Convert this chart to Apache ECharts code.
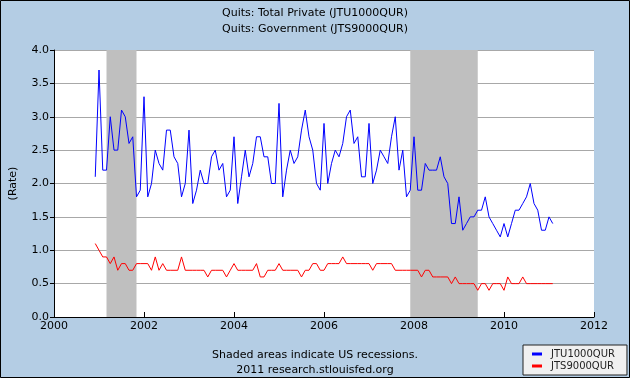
<!DOCTYPE html>
<html>
<head>
<meta charset="utf-8">
<script src="https://cdn.jsdelivr.net/npm/echarts@6/dist/echarts.min.js"></script>
<style>
html,body{margin:0;padding:0;background:#b4cde4;}
#chart{width:630px;height:378px;}
</style>
</head>
<body>
<div id="chart"></div>
<script>
// Monthly series start: December 2000
const startYear = 2000;
const startMonth = 12;

// Quits: Total Private (JTU1000QUR), rate
const quitsPrivate = [
  2.1,
  3.7,2.2,2.2,3.0,2.5,2.5,3.1,3.0,2.6,2.7,1.8,1.9,
  3.3,1.8,2.0,2.5,2.3,2.2,2.8,2.8,2.4,2.3,1.8,2.0,
  2.8,1.7,1.9,2.2,2.0,2.0,2.4,2.5,2.2,2.3,1.8,1.9,
  2.7,1.7,2.1,2.5,2.1,2.3,2.7,2.7,2.4,2.4,2.0,2.0,
  3.2,1.8,2.2,2.5,2.3,2.4,2.8,3.1,2.7,2.5,2.0,1.9,
  2.9,2.0,2.3,2.5,2.4,2.6,3.0,3.1,2.6,2.7,2.1,2.1,
  2.9,2.0,2.2,2.5,2.4,2.3,2.7,3.0,2.2,2.5,1.8,1.9,
  2.7,1.9,1.9,2.3,2.2,2.2,2.2,2.4,2.1,2.0,1.4,1.4,
  1.8,1.3,1.4,1.5,1.5,1.6,1.6,1.8,1.5,1.4,1.3,1.2,
  1.4,1.2,1.4,1.6,1.6,1.7,1.8,2.0,1.7,1.6,1.3,1.3,
  1.5,1.4
];

// Quits: Government (JTS9000QUR), rate
const quitsGov = [
  1.1,
  1.0,0.9,0.9,0.8,0.9,0.7,0.8,0.8,0.7,0.7,0.8,0.8,
  0.8,0.8,0.7,0.9,0.7,0.8,0.7,0.7,0.7,0.7,0.9,0.7,
  0.7,0.7,0.7,0.7,0.7,0.6,0.7,0.7,0.7,0.7,0.6,0.7,
  0.8,0.7,0.7,0.7,0.7,0.7,0.8,0.6,0.6,0.7,0.7,0.7,
  0.8,0.7,0.7,0.7,0.7,0.7,0.6,0.7,0.7,0.8,0.8,0.7,
  0.7,0.8,0.8,0.8,0.8,0.9,0.8,0.8,0.8,0.8,0.8,0.8,
  0.8,0.7,0.8,0.8,0.8,0.8,0.8,0.7,0.7,0.7,0.7,0.7,
  0.7,0.7,0.6,0.7,0.7,0.6,0.6,0.6,0.6,0.6,0.5,0.6,
  0.5,0.5,0.5,0.5,0.5,0.4,0.5,0.5,0.4,0.5,0.5,0.5,
  0.4,0.6,0.5,0.5,0.5,0.6,0.5,0.5,0.5,0.5,0.5,0.5,
  0.5,0.5
];

// Recessions (decimal years): Mar 2001 - Nov 2001, Dec 2007 - Jun 2009
const recessionStarts = [2001 + 2/12, 2007 + 11/12];
const recessionEnds   = [2001 + 10/12, 2009 + 5/12];

const seriesNames = ['JTU1000QUR', 'JTS9000QUR'];
const titleLines = ['Quits: Total Private (JTU1000QUR)', 'Quits: Government (JTS9000QUR)'];
const noteLines = ['Shaded areas indicate US recessions.', '2011 research.stlouisfed.org'];

function toPairs(vals) {
  return vals.map((v, i) => [startYear + (startMonth - 1) / 12 + i / 12, v]);
}

const FONT = '"DejaVu Sans", Verdana, sans-serif';
const chart = echarts.init(document.getElementById('chart'), null, {renderer: 'canvas'});

chart.setOption({
  animation: false,
  backgroundColor: '#b4cde4',
  grid: {left: 52, right: 36, top: 50, bottom: 61, containLabel: false,
         show: true, backgroundColor: '#ffffff', borderWidth: 0},
  xAxis: {
    type: 'value', min: 2000, max: 2012, interval: 2,
    axisLine: {show: true, onZero: false, lineStyle: {color: '#000', width: 1}},
    axisTick: {show: true, inside: true, length: 5, lineStyle: {color: '#000'}},
    axisLabel: {color: '#000', fontSize: 11, fontFamily: FONT, margin: 4,
                formatter: v => String(v)},
    splitLine: {show: false}
  },
  yAxis: {
    type: 'value', min: 0, max: 4, interval: 0.5,
    name: '(Rate)', nameLocation: 'middle', nameGap: 35, nameRotate: 90,
    nameTextStyle: {color: '#000', fontSize: 11, fontFamily: FONT},
    axisLine: {show: true, lineStyle: {color: '#000', width: 1}},
    axisTick: {show: true, inside: false, length: 4, lineStyle: {color: '#000'}},
    axisLabel: {color: '#000', fontSize: 11, fontFamily: FONT, margin: 5,
                formatter: v => v.toFixed(1)},
    splitLine: {show: true, lineStyle: {color: '#a8a8a8', width: 1}}
  },
  legend: {
    orient: 'vertical', left: 523, top: 345,
    itemWidth: 10, itemHeight: 3, itemGap: 2, icon: 'rect',
    padding: [4, 12, 4, 9],
    backgroundColor: '#f0f0f0', borderColor: '#222', borderWidth: 1,
    textStyle: {fontSize: 10, fontFamily: FONT, color: '#222', padding: [0, 0, 0, 4]},
    data: seriesNames
  },
  graphic: [
    {type: 'text', x: 315, y: 13, style: {text: titleLines[0], fill: '#000', font: '11px ' + FONT, textAlign: 'center', textVerticalAlign: 'middle'}},
    {type: 'text', x: 315, y: 29, style: {text: titleLines[1], fill: '#000', font: '11px ' + FONT, textAlign: 'center', textVerticalAlign: 'middle'}},
    {type: 'text', x: 315, y: 355, style: {text: noteLines[0], fill: '#000', font: '11px ' + FONT, textAlign: 'center', textVerticalAlign: 'middle'}},
    {type: 'text', x: 315, y: 370, style: {text: noteLines[1], fill: '#000', font: '11px ' + FONT, textAlign: 'center', textVerticalAlign: 'middle'}},
    {type: 'rect', shape: {x: 0.5, y: 0.5, width: 629, height: 377}, style: {fill: 'none', stroke: '#000', lineWidth: 1}, z: 100}
  ],
  series: [
    {
      name: 'recessions', type: 'line', data: [], z: 1, silent: true,
      markArea: {
        silent: true,
        itemStyle: {color: '#bfbfbf', opacity: 1},
        data: recessionStarts.map((s, i) => [{xAxis: s}, {xAxis: recessionEnds[i]}])
      }
    },
    {
      name: seriesNames[0], type: 'line', data: toPairs(quitsPrivate), z: 3,
      showSymbol: false, symbol: 'none', color: '#0000ff',
      lineStyle: {color: '#0000ff', width: 1}
    },
    {
      name: seriesNames[1], type: 'line', data: toPairs(quitsGov), z: 3,
      showSymbol: false, symbol: 'none', color: '#ff0000',
      lineStyle: {color: '#ff0000', width: 1}
    }
  ]
});
</script>
</body>
</html>
